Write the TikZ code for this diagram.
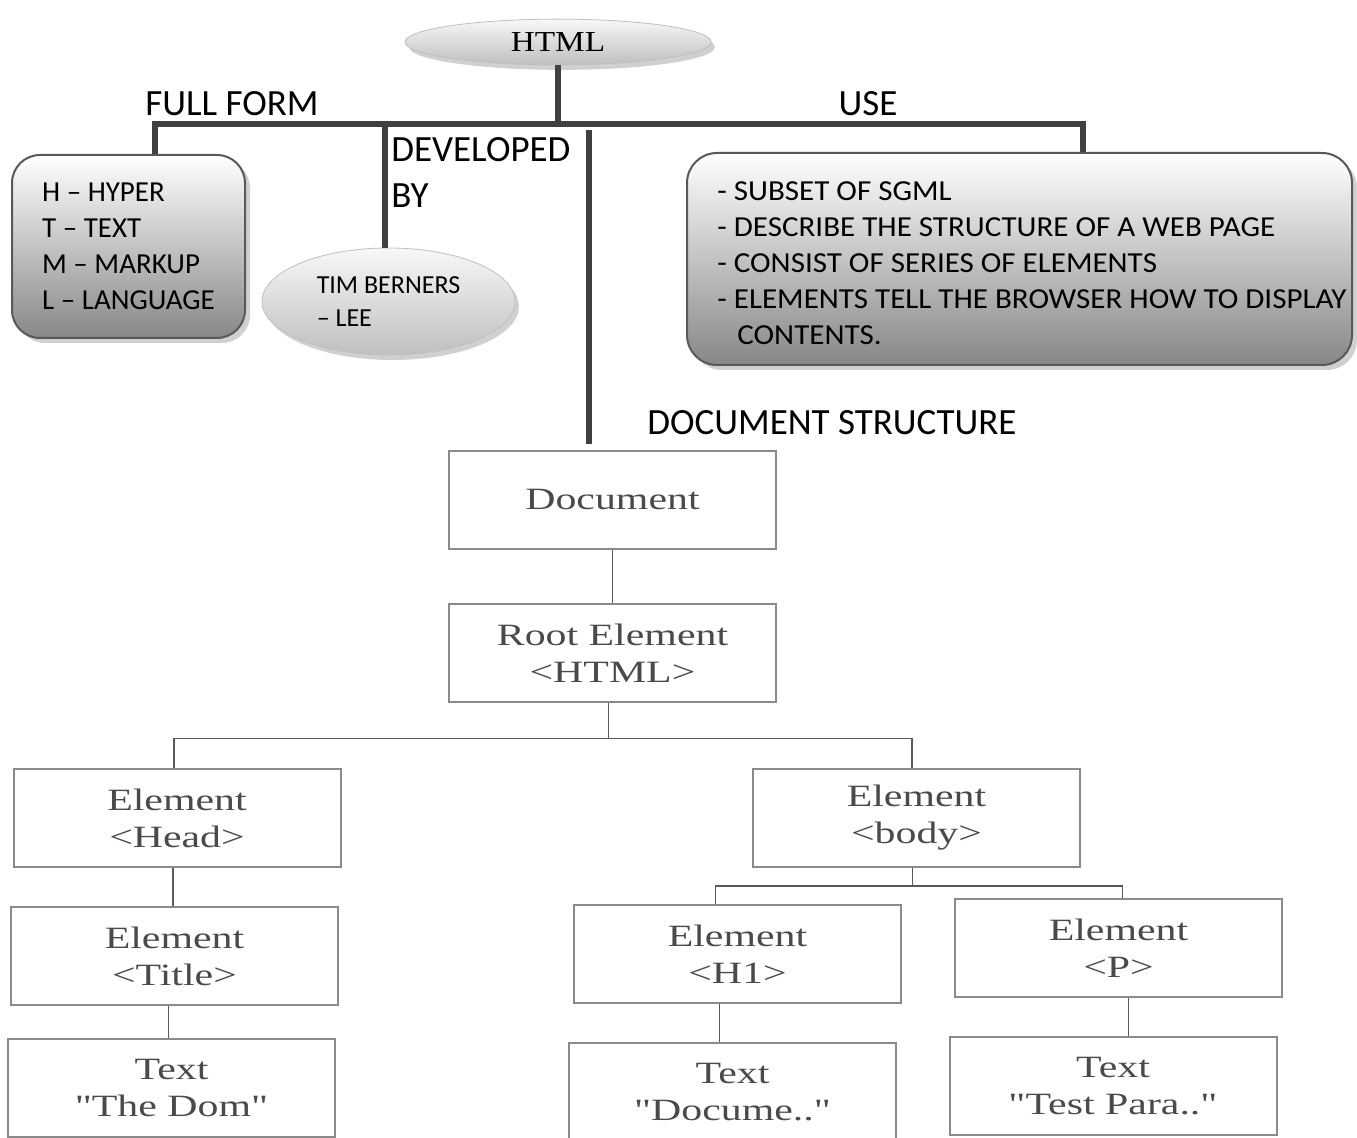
\documentclass[tikz,border=0pt]{standalone}
\usepackage{fontspec}
\setmainfont{Carlito}
\newfontfamily\usetxtfont[FakeStretch=1.07]{Carlito}
\newfontfamily\htmlfont[FakeStretch=1.15]{Liberation Serif}
\newfontfamily\treefont[FakeStretch=1.35]{Liberation Serif}
\usepackage{xcolor}
\usepackage{tikz}
\usetikzlibrary{shapes.geometric, shadows, positioning}
\definecolor{trunkgray}{HTML}{404040}
\definecolor{edgegray}{HTML}{8A8A8A}
\definecolor{inkgray}{HTML}{4A4A4A}
\tikzset{
  oval/.style     = {ellipse, draw=black!25, top color=black!3, bottom color=black!25,
                     drop shadow={shadow xshift=2pt, shadow yshift=-2.5pt, fill=black!30, opacity=.6}},
  roundbox/.style = {rectangle, draw=black!65, line width=1pt, top color=white,
                     bottom color=black!47, inner sep=0pt,
                     drop shadow={shadow xshift=2.5pt, shadow yshift=-2.5pt, fill=black!30, opacity=.6}},
  headtxt/.style  = {inner sep=0pt, font=\fontsize{18.5}{23}\selectfont},
  boxtxt/.style   = {inner sep=0pt, align=left, font=\fontsize{14.5}{18}\selectfont},
  treebox/.style  = {rectangle, draw=edgegray, line width=1pt, minimum width=163.5pt,
                     minimum height=49pt, align=center, text=inkgray,
                     font=\treefont\fontsize{15.5}{18.5}\selectfont},
  trunk/.style    = {line width=2.6pt, draw=trunkgray},
  branch/.style   = {line width=0.75pt, draw=black!65},
}

\begin{document}
\begin{tikzpicture}[x=0.5pt, y=-0.5pt]

    \useasboundingbox (0,0) rectangle (1357,1138);
    \clip (0,0) rectangle (1357,1138);
    \fill[white] (0,0) rectangle (1357,1138);

    %% Top: HTML and its three facts
    \node[oval, minimum width=153pt, minimum height=22.5pt,
          font=\htmlfont\fontsize{14.5}{16}\selectfont] (html) at (558,42) {HTML};

    \node[roundbox, rounded corners=14pt, minimum width=116.5pt, minimum height=91.5pt]
          (ff) at (128.5,246.5) {};
    \node[boxtxt] (fftxt) at (ff.center) {H -- HYPER\\T -- TEXT\\M -- MARKUP\\L -- LANGUAGE};

    \node[oval, minimum width=126.5pt, minimum height=53.5pt, align=left,
          font=\fontsize{13}{16.5}\selectfont] (tim) at (388.5,301.5) {TIM BERNERS\\-- LEE};

    \node[roundbox, rounded corners=15pt, minimum width=332.5pt, minimum height=106pt]
          (usebox) at (1019.5,259) {};
    \node[boxtxt, anchor=west, font=\usetxtfont\fontsize{14.5}{18}\selectfont] (usetxt) at (717,263.5)
          {- SUBSET OF SGML\\- DESCRIBE THE STRUCTURE OF A WEB PAGE\\
           - CONSIST OF SERIES OF ELEMENTS\\- ELEMENTS TELL THE BROWSER HOW TO DISPLAY\\
           \hspace*{10pt}CONTENTS.};

    \node[headtxt] (lblff)  at (232,104) {FULL FORM};
    \node[headtxt] (lbluse) at (868,104) {USE};
    \node[headtxt, anchor=west, align=left] (lbldev) at (391,173) {DEVELOPED\\BY};
    \node[headtxt, anchor=west] (lblds) at (647,423) {DOCUMENT STRUCTURE};

    %% Thick connectors
    \coordinate (hub) at (558,125);
    \draw[trunk] (html.south) -- (hub);
    \draw[trunk] ([xshift=13.25pt]ff.north) -- ++(0,-30) -| ([xshift=31.75pt]usebox.north);
    \draw[trunk] ([xshift=-1.75pt]tim.north) -- ([xshift=-1.75pt]tim.north |- hub);

    %% Bottom: document tree
    \node[treebox] (doc)   at (612.5,500)   {Document};
    \node[treebox] (root)  at (612.5,653.5) {Root Element\\<HTML>};
    \node[treebox] (head)  at (177,818)     {Element\\<Head>};
    \node[treebox] (body)  at (916.5,818)   {Element\\<body>};
    \node[treebox] (title) at (174.5,956)   {Element\\<Title>};
    \node[treebox] (dom)   at (171.5,1088.5){Text\\"The Dom"};
    \node[treebox] (h1)    at (737.5,954)   {Element\\<H1>};
    \node[treebox] (p)     at (1118.5,948)  {Element\\<P>};
    \node[treebox] (txtb)  at (732.5,1092)  {Text\\"Docume.."};
    \node[treebox] (txtc)  at (1113,1086)   {Text\\"Test Para.."};

    \coordinate (dsTop) at (589,130);
    \draw[trunk, shorten >=3pt] (dsTop) -- (dsTop |- doc.north);

    \draw[branch] (doc) -- (root);
    \draw[branch] ([xshift=-2pt]root.south) -- ++(0,35) coordinate (rootbar) -| ([xshift=-1.5pt]head.north);
    \draw[branch] (rootbar) -| ([xshift=-2.25pt]body.north);
    \draw[branch] ([xshift=-2pt]head.south) -- ([xshift=-2pt]head.south |- title.north);
    \draw[branch] ([xshift=-3pt]title.south) -- ([xshift=-3pt]title.south |- dom.north);
    \draw[branch] ([xshift=-2pt]body.south) -- ++(0,18) coordinate (bodybar) -| ([xshift=-11pt]h1.north);
    \draw[branch] (bodybar) -| ([xshift=2pt]p.north);
    \draw[branch] ([xshift=-9pt]h1.south) -- ([xshift=-9pt]h1.south |- txtb.north);
    \draw[branch] ([xshift=5pt]p.south) -- ([xshift=5pt]p.south |- txtc.north);

  \end{tikzpicture}
\end{document}
